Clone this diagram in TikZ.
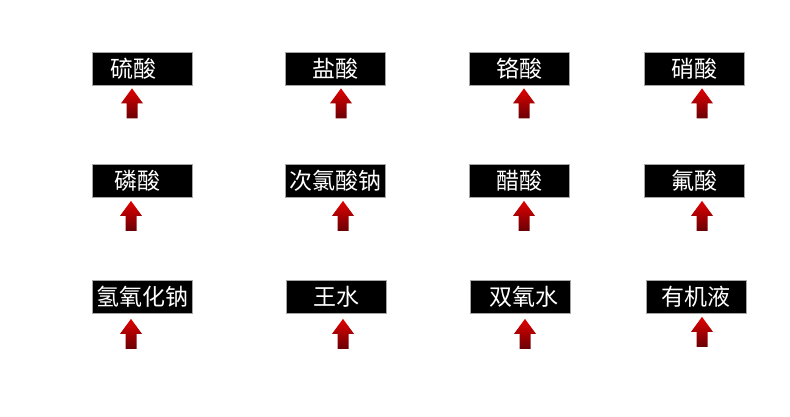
\documentclass[tikz,border=0pt]{standalone}
\usepackage{fontspec}
\newfontfamily\cjk{Noto Sans CJK SC}
\usepackage{tikz}
\usetikzlibrary{positioning,calc}
\definecolor{arrowtop}{RGB}{226,0,0}
\definecolor{arrowbot}{RGB}{105,0,5}
\tikzset{acid/.style={draw=gray!70, line width=0.8pt, fill=black, text=white,
  minimum width=100pt, minimum height=33pt, inner sep=0pt,
  font=\cjk\fontsize{23}{23}\selectfont},
upshaft/.pic={\shade[top color=arrowtop, bottom color=arrowbot]
  (-5.5,0) -- (-5.5,15) -- (-11,15) -- (0,30) -- (11,15) -- (5.5,15) -- (5.5,0) -- cycle;}
}
\begin{document}
\begin{tikzpicture}[x=1pt, y=1pt]
      \useasboundingbox (0,0) rectangle (790,417);
      \node[acid] (liusuan)   at (142,348.5) {硫酸\hspace*{18pt}};
      \node[acid] (yansuan)   at (335,348.5) {盐酸};
      \node[acid] (gesuan)    at (519,348.5) {铬酸};
      \node[acid] (xiaosuan)  at (694,348.5) {硝酸};
      \node[acid] (linsuan)   at (142,236)   {磷酸\hspace*{10pt}};
      \node[acid] (cilvsuan)  at (335,236)   {次氯酸钠};
      \node[acid] (cusuan)    at (519,236)   {醋酸};
      \node[acid] (fusuan)    at (694,236)   {氟酸};
      \node[acid] (qingyang)  at (142,120)   {氢氧化钠};
      \node[acid] (wangshui)  at (336,120)   {王水};
      \node[acid] (shuangyang) at (520,120)  {双氧水\hspace*{-8pt}};
      \node[acid] (youji)     at (696,120)   {有机液};

      \pic at ($(liusuan.south)+(-10,-33)$)   {upshaft};
      \pic at ($(yansuan.south)+(6,-33)$)     {upshaft};
      \pic at ($(gesuan.south)+(5,-33)$)      {upshaft};
      \pic at ($(xiaosuan.south)+(8,-33)$)    {upshaft};
      \pic at ($(linsuan.south)+(-11,-33)$)   {upshaft};
      \pic at ($(cilvsuan.south)+(8,-33)$)    {upshaft};
      \pic at ($(cusuan.south)+(5,-33)$)      {upshaft};
      \pic at ($(fusuan.south)+(8,-33)$)      {upshaft};
      \pic at ($(qingyang.south)+(-11,-35)$)  {upshaft};
      \pic at ($(wangshui.south)+(7,-35)$)    {upshaft};
      \pic at ($(shuangyang.south)+(5,-35)$)  {upshaft};
      \pic at ($(youji.south)+(6,-33)$)       {upshaft};
\end{tikzpicture}
\end{document}
